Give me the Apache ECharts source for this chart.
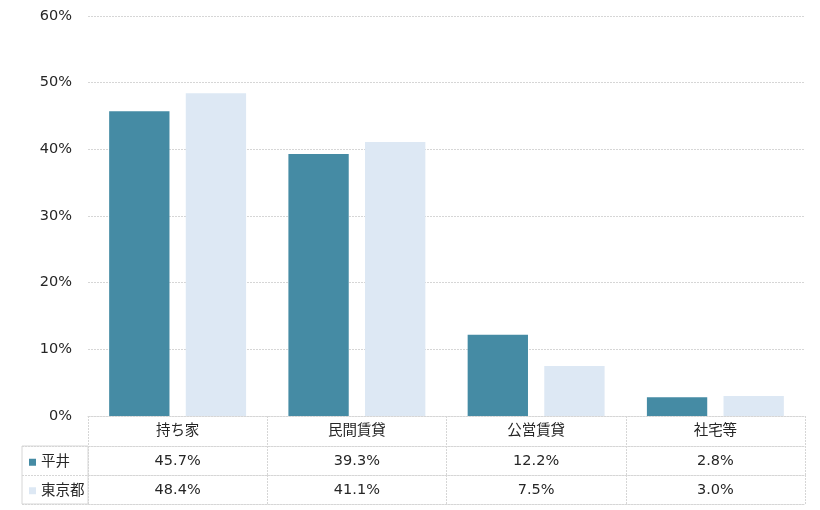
<!DOCTYPE html>
<html><head><meta charset="utf-8">
<script src="https://cdn.jsdelivr.net/npm/echarts@6/dist/echarts.min.js"></script>
<style>html,body{margin:0;padding:0;background:#fff}#c{width:820px;height:510px}</style>
</head><body><div id="c"></div>
<script>
const categories = ['持ち家', '民間賃貸', '公営賃貸', '社宅等'];
const seriesNames = ['平井', '東京都'];
const hirai = [45.7, 39.3, 12.2, 2.8];
const tokyo = [48.4, 41.1, 7.5, 3.0];
const yTicks = [0, 10, 20, 30, 40, 50, 60];

const FONT = '"DejaVu Sans", "Noto Sans CJK JP", sans-serif';
const LINE = '#d6d6d6';
const TEXT = '#262626';
const colors = ['#458BA4', '#DDE8F4'];
const fmt = v => v.toFixed(1) + '%';

const chart = echarts.init(document.getElementById('c'), null, {renderer: 'canvas'});
const tableAxis = (offset, values, showLabel) => ({
  type: 'category', gridIndex: 0, position: 'bottom', offset: offset,
  data: categories,
  axisLine: {show: true, lineStyle: {color: LINE, type: [2, 1]}},
  axisTick: {show: showLabel, length: 29, interval: 0, lineStyle: {color: LINE, type: [2, 1]}},
  axisLabel: {show: showLabel, interval: 0, margin: 8, fontSize: 14.5, color: TEXT, fontFamily: FONT,
    formatter: (v, i) => values ? fmt(values[i]) : v},
  splitLine: {show: false}
});
chart.setOption({
  animation: false,
  textStyle: {fontFamily: FONT},
  color: colors,
  legend: {
    orient: 'vertical', left: 24, top: 450, itemWidth: 7, itemHeight: 7, itemGap: 14,
    icon: 'rect', data: seriesNames,
    textStyle: {fontSize: 14.5, color: TEXT, fontFamily: FONT}
  },
  grid: [
    {left: 88, right: 15, top: 16, bottom: 94, containLabel: false},
    {left: 22, top: 446, width: 66, height: 58, show: true, borderColor: LINE, borderWidth: 1}
  ],
  xAxis: [
    Object.assign(tableAxis(0, null, true), {axisTick: {show: true, length: 30, interval: 0, lineStyle: {color: LINE, type: [2, 1]}}}),
    tableAxis(30, hirai, true),
    tableAxis(59, tokyo, true),
    tableAxis(88, null, false),
    {type: 'value', gridIndex: 1, show: false, min: 0, max: 1}
  ],
  yAxis: [
    {type: 'value', gridIndex: 0, min: yTicks[0], max: yTicks[yTicks.length - 1], interval: 10,
      axisLine: {show: false}, axisTick: {show: false},
      axisLabel: {formatter: v => v + '%', fontSize: 14.5, color: TEXT, margin: 16, fontFamily: FONT},
      splitLine: {show: true, lineStyle: {color: LINE, type: [2, 1]}}},
    {type: 'category', gridIndex: 1, data: seriesNames, inverse: true,
      axisLine: {show: false}, axisTick: {show: false}, axisLabel: {show: false},
      splitLine: {show: true, interval: 0, lineStyle: {color: LINE, type: [2, 1]}}}
  ],
  series: [
    {name: seriesNames[0], type: 'bar', xAxisIndex: 0, yAxisIndex: 0, data: hirai,
      barCategoryGap: '23.6%', barGap: '27%', itemStyle: {color: colors[0]}},
    {name: seriesNames[1], type: 'bar', xAxisIndex: 0, yAxisIndex: 0, data: tokyo,
      barCategoryGap: '23.6%', barGap: '27%', itemStyle: {color: colors[1]}}
  ]
});
</script></body></html>
